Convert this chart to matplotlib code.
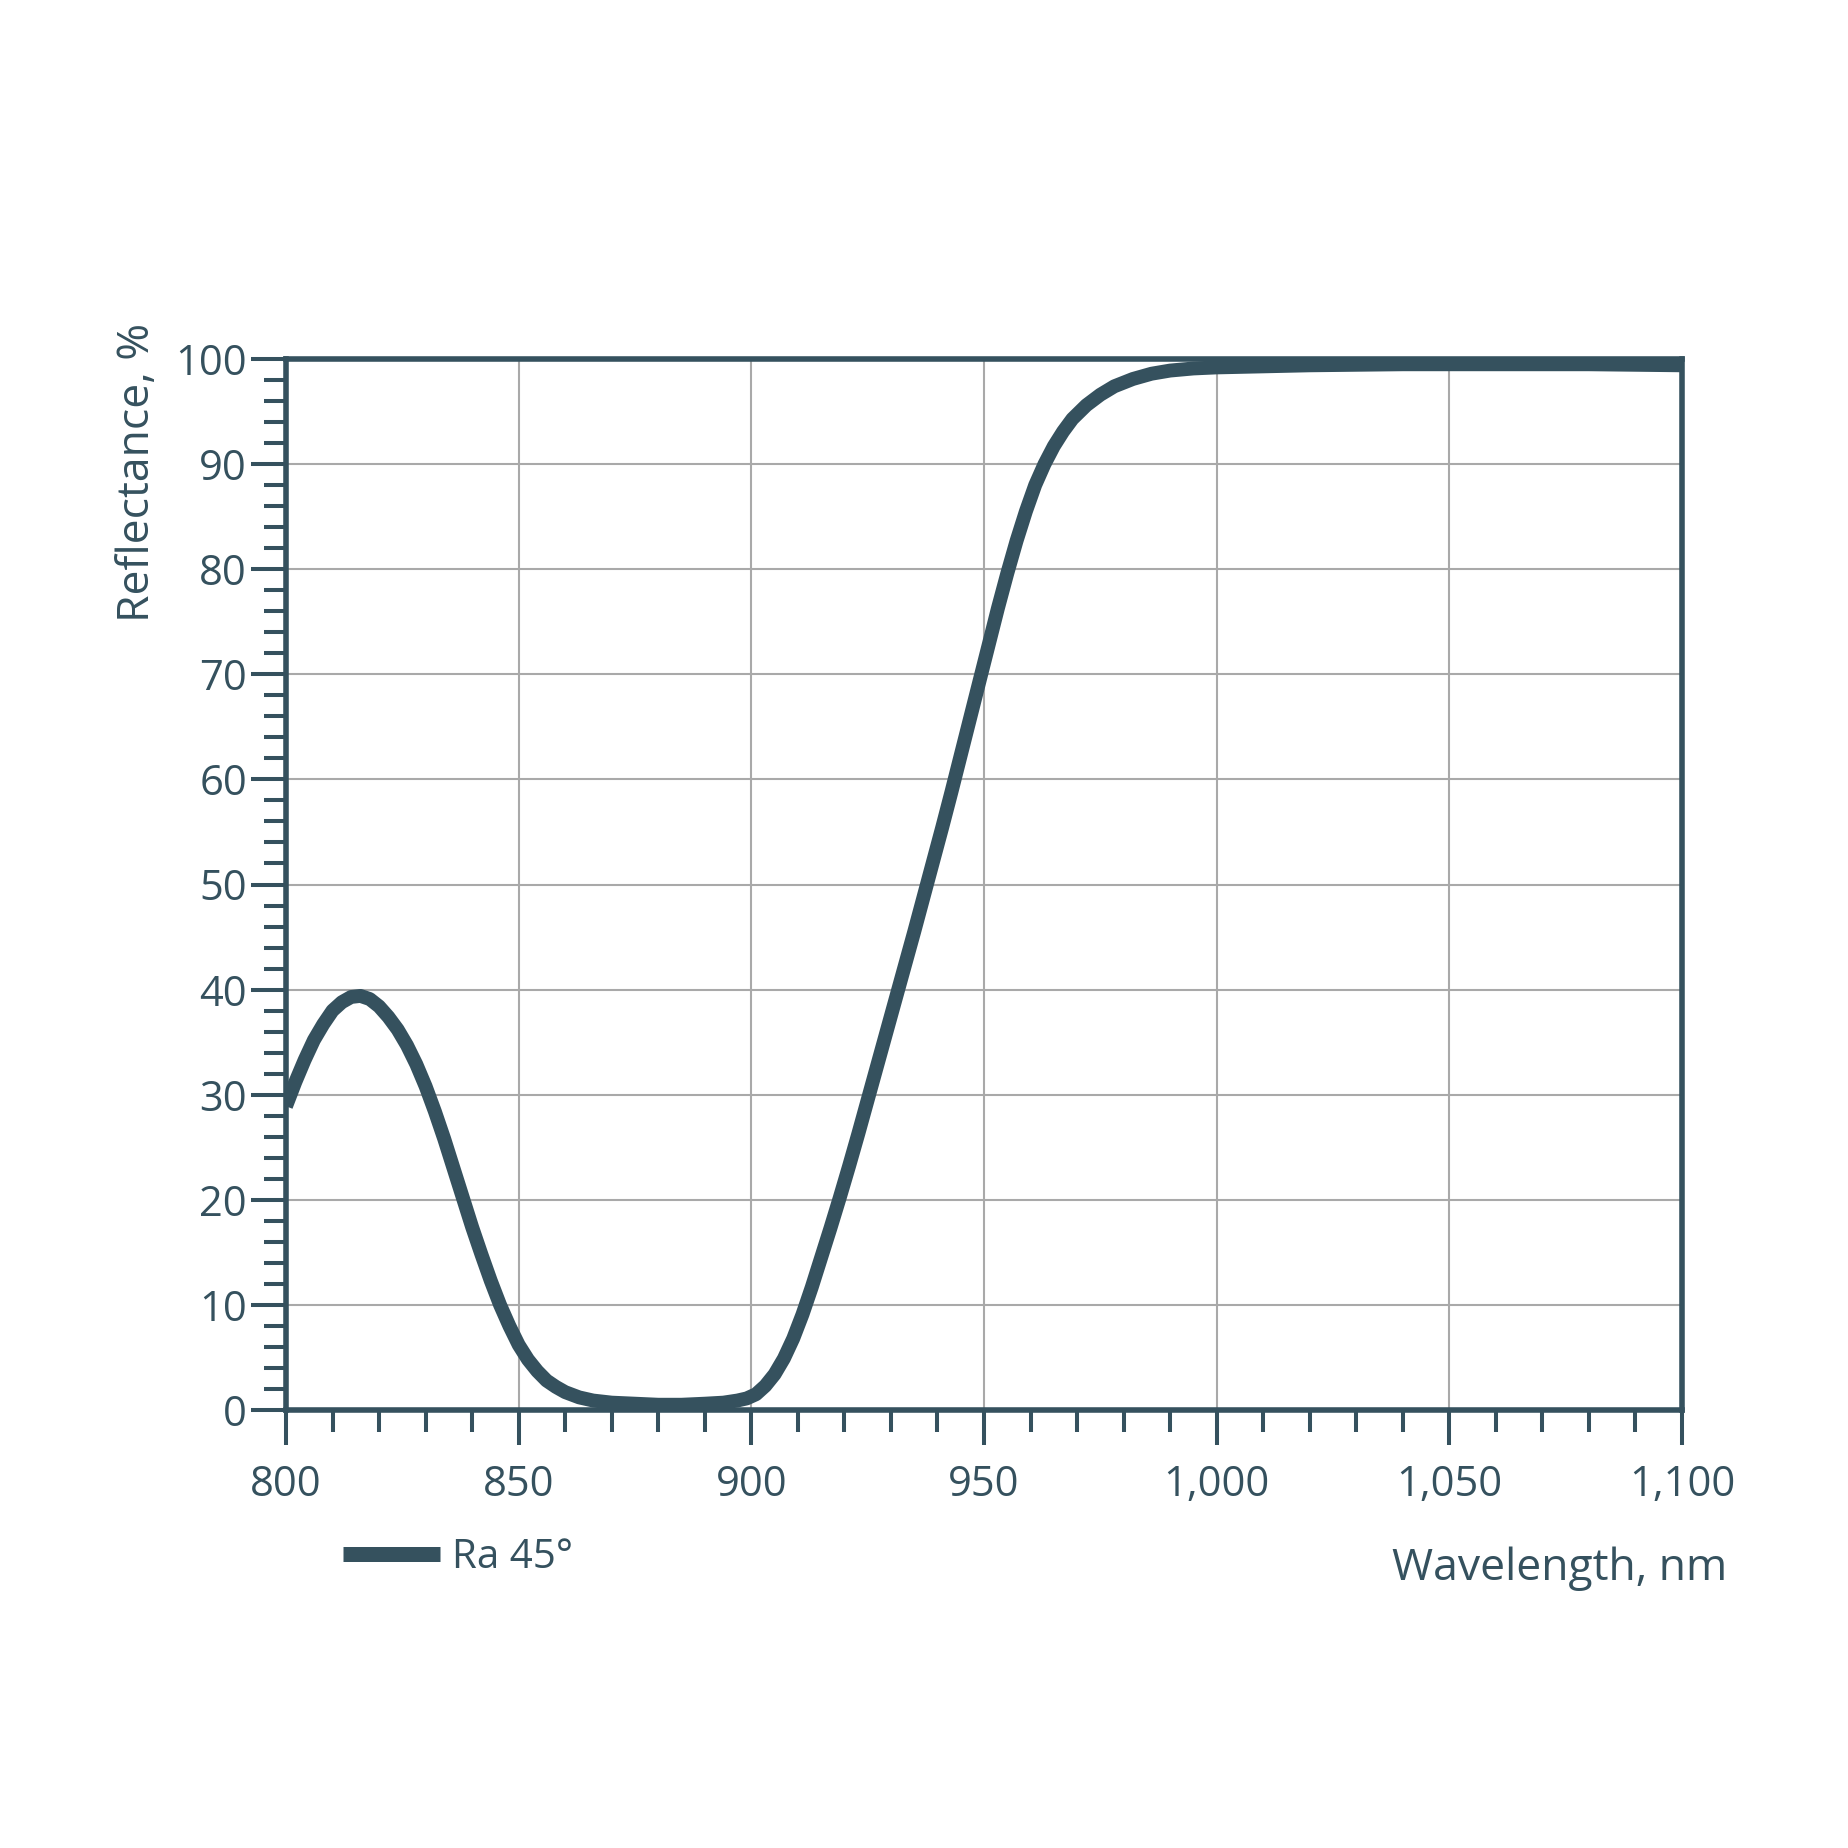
import matplotlib
matplotlib.use("Agg")
import matplotlib.pyplot as plt
from matplotlib.ticker import MultipleLocator, FuncFormatter

# Reflectance curve
wavelength = [800, 802, 804, 806, 808, 810, 812, 814, 816, 818, 820, 822, 824, 826, 828,
              830, 832, 834, 836, 838, 840, 842, 844, 846, 848, 850, 852, 854, 856, 858,
              860, 863, 866, 870, 875, 880, 885, 890, 894, 897, 899, 901, 903, 905, 907,
              909, 911, 913, 915, 917, 919, 921, 923, 925, 927, 929, 931, 933, 935, 937,
              939, 941, 943, 945, 947, 949, 951, 953, 955, 957, 959, 961, 963, 965, 967,
              969, 972, 975, 978, 982, 986, 990, 995, 1000, 1010, 1020, 1040, 1060, 1080, 1100]
reflectance = [28.9, 31.2, 33.3, 35.2, 36.7, 38.0, 38.8, 39.3, 39.4, 39.1, 38.4, 37.4, 36.2, 34.7, 32.9,
               30.8, 28.4, 25.8, 23.0, 20.2, 17.4, 14.8, 12.3, 10.0, 8.0, 6.2, 4.8, 3.7, 2.8, 2.2,
               1.7, 1.2, 0.9, 0.7, 0.6, 0.5, 0.5, 0.6, 0.7, 0.9, 1.1, 1.5, 2.3, 3.4, 4.9,
               6.8, 9.1, 11.7, 14.5, 17.3, 20.2, 23.2, 26.3, 29.5, 32.7, 35.9, 39.1, 42.3, 45.5, 48.8,
               52.1, 55.4, 58.8, 62.3, 65.8, 69.3, 72.8, 76.3, 79.6, 82.7, 85.5, 88.0, 90.0, 91.7, 93.1,
               94.3, 95.6, 96.6, 97.4, 98.1, 98.6, 98.9, 99.1, 99.2, 99.3, 99.4, 99.5, 99.5, 99.5, 99.4]
series_label = "Ra 45°"

teal = "#35515e"
grid_gray = "#a9a9a9"
W = 1848.0

plt.rcParams['font.family'] = ['Open Sans', 'DejaVu Sans']

fig = plt.figure(figsize=(18.48, 18.48), dpi=100)
ax = fig.add_axes([286 / W, 1 - 1410 / W, (1682 - 286) / W, (1410 - 359) / W])

line, = ax.plot(wavelength, reflectance, color=teal, lw=10, solid_capstyle='butt',
                solid_joinstyle='round', label=series_label, zorder=5)

ax.set_xlim(800, 1100)
ax.set_ylim(0, 100)
ax.xaxis.set_major_locator(MultipleLocator(50))
ax.xaxis.set_minor_locator(MultipleLocator(10))
ax.yaxis.set_major_locator(MultipleLocator(10))
ax.yaxis.set_minor_locator(MultipleLocator(2))
ax.xaxis.set_major_formatter(FuncFormatter(lambda v, p: f"{int(round(v)):,}"))

ax.grid(True, which='major', color=grid_gray, lw=1.5, zorder=0)
for s in ax.spines.values():
    s.set_color(teal)
    s.set_linewidth(4)

ax.tick_params(which='major', direction='out', length=25, width=2.9, color=teal,
               labelcolor=teal, labelsize=30)
ax.tick_params(which='minor', direction='out', length=16, width=2.9, color=teal)
ax.tick_params(axis='x', which='major', pad=14)
ax.tick_params(axis='y', which='major', pad=3)

fig.text(138 / W, 1 - 323 / W, "Reflectance, %", rotation=90, ha='center', va='top',
         fontsize=32, color=teal)
fig.text(1727 / W, 1 - 1580 / W, "Wavelength, nm", ha='right', va='baseline',
         fontsize=32, color=teal)

leg = fig.legend(handles=[line], loc='center left', bbox_to_anchor=(343 / W, 1 - 1558 / W),
                 bbox_transform=fig.transFigure, frameon=False, borderpad=0, borderaxespad=0,
                 handlelength=2.4, handletextpad=0.3, fontsize=29)
for t in leg.get_texts():
    t.set_color(teal)
leg.get_lines()[0].set_linewidth(10.8)

fig.savefig("out.png", dpi=100, facecolor='white')
